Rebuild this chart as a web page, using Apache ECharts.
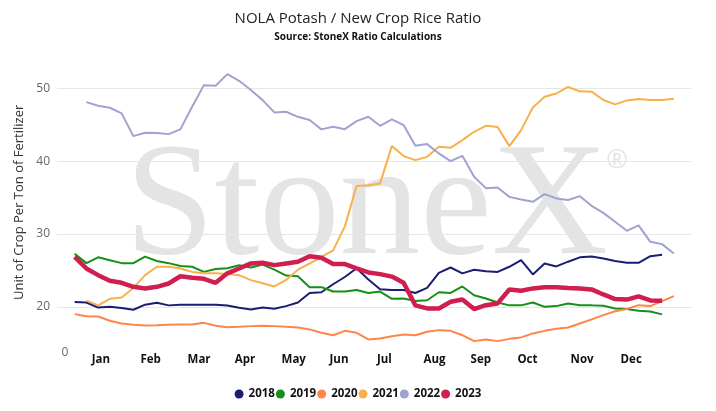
<!DOCTYPE html>
<html>
<head>
<meta charset="utf-8">
<script src="https://cdn.jsdelivr.net/npm/echarts@6/dist/echarts.min.js"></script>
<style>
html,body{margin:0;padding:0;background:#fff;}
#chart{width:716px;height:411px;}
</style>
</head>
<body>
<div id="chart"></div>
<script>
// ---- data (weekly ratio, week 1..52) ----
const weeks = [1,2,3,4,5,6,7,8,9,10,11,12,13,14,15,16,17,18,19,20,21,22,23,24,25,26,27,28,29,30,31,32,33,34,35,36,37,38,39,40,41,42,43,44,45,46,47,48,49,50,51,52];
const monthLabels = ['Jan','Feb','Mar','Apr','May','Jun','Jul','Aug','Sep','Oct','Nov','Dec'];
const monthPositions = [3.23,7.47,11.59,15.5,19.65,23.5,27.36,31.63,35.57,39.54,44.19,48.37];
const yTickLabels = [20,30,40,50];
const seriesNames = ['2018','2019','2020','2021','2022','2023'];

const v2018 = [20.65,20.6,19.9,20.0,19.85,19.6,20.3,20.55,20.2,20.3,20.3,20.3,20.3,20.18,
  19.86,19.64,19.9,19.73,20.1,20.6,21.9,22.0,23.1,24.1,25.3,23.76,22.4,
  22.3,22.3,21.9,22.6,24.67,25.4,24.6,25.1,24.9,24.8,25.5,26.4,24.45,25.96,25.55,
  26.2,26.8,26.9,26.65,26.3,26.05,26.05,26.96,27.14];
const v2019 = [27.3,26.0,26.8,26.4,26.0,26.0,26.9,26.3,26.0,25.6,25.5,24.8,25.2,25.3,
  25.7,25.4,25.8,25.1,24.3,24.2,22.7,22.7,22.1,22.1,22.3,21.9,22.1,21.1,
  21.15,20.8,20.9,22.0,21.9,22.8,21.6,21.15,20.6,20.2,20.2,20.6,20.0,20.1,
  20.46,20.23,20.2,20.14,19.78,19.7,19.45,19.36,18.96];
const v2020 = [19.0,18.72,18.68,18.08,17.72,17.53,17.44,17.48,17.53,17.57,17.57,17.8,17.4,17.2,
  17.25,17.35,17.4,17.35,17.25,17.16,16.9,16.43,16.1,16.7,16.43,15.52,15.66,15.97,
  16.2,16.1,16.57,16.8,16.7,16.1,15.29,15.52,15.29,15.6,15.8,16.35,16.7,17.0,
  17.16,17.72,18.27,18.86,19.4,19.7,20.23,20.1,20.78,21.47];
const v2021 = [null,20.85,20.2,21.1,21.27,22.6,24.35,25.5,25.5,25.27,24.8,
  24.62,24.6,24.5,24.35,23.67,23.25,22.8,23.7,25.1,25.95,
  26.87,27.75,31.05,36.6,36.7,36.95,42.1,40.7,40.15,40.6,
  41.98,41.84,42.9,44.04,44.86,44.7,42.07,44.27,47.39,48.85,
  49.3,50.2,49.6,49.55,48.4,47.8,48.35,48.53,48.4,48.4,48.57];
const v2022 = [null,48.12,47.61,47.34,46.57,43.45,43.9,43.86,43.72,44.37,47.47,
  50.45,50.36,51.96,51.04,49.77,48.39,46.7,46.79,46.1,45.65,
  44.37,44.73,44.4,45.5,46.1,44.86,45.74,44.96,42.12,42.35,
  41.07,40.01,40.74,37.86,36.3,36.4,35.1,34.75,34.42,35.48,
  34.89,34.67,35.2,33.87,32.91,31.68,30.44,31.18,28.93,28.61,27.33];
const v2023 = [26.87,25.27,24.35,23.57,23.3,22.75,22.53,22.75,23.2,24.2,23.98,23.85,23.3,24.6,
  25.27,25.96,26.05,25.73,25.96,26.18,26.96,26.73,25.87,25.87,25.27,24.72,24.49,24.15,
  23.3,20.2,19.78,19.78,20.69,21.0,19.7,20.23,20.47,22.39,22.2,22.53,22.7,22.7,
  22.6,22.53,22.39,21.7,21.06,21.0,21.43,20.88,20.83];

const values = [v2018,v2019,v2020,v2021,v2022,v2023];
const colors = ['#1b1d72','#168f16','#ff8549','#f8b04a','#a0a3cf','#d01e4e'];
const widths = [2,2,2,2,2,4.5];

function toData(arr){
  const out = [];
  weeks.forEach((w,i)=>{ if(arr[i]!=null) out.push([w, arr[i]]); });
  return out;
}

const Y_MIN = 13.7, Y_MAX = 55;

const chart = echarts.init(document.getElementById('chart'), null, {renderer:'canvas'});
chart.setOption({
  animation:false,
  backgroundColor:'#ffffff',
  textStyle:{fontFamily:'"Open Sans", "Noto Sans", sans-serif'},
  title:{
    text:'NOLA Potash / New Crop Rice Ratio',
    subtext:'Source: StoneX Ratio Calculations',
    left:'center', top:6, itemGap:6,
    textStyle:{fontSize:15,fontWeight:'normal',color:'#222222',fontFamily:'"Open Sans", sans-serif'},
    subtextStyle:{fontSize:10,fontWeight:'bold',color:'#111111',fontFamily:'"Open Sans", sans-serif'}
  },
  graphic:[
    {type:'text', z:-10, silent:true, x:125, y:211,
      style:{text:'StoneX', fill:'#e3e4e6', font:'161px "Liberation Serif", "DejaVu Serif", serif', verticalAlign:'middle', align:'left'}},
    {type:'text', z:-10, silent:true, x:617, y:161,
      style:{text:'®', fill:'#e3e4e6', font:'26px "Open Sans", sans-serif', verticalAlign:'middle', align:'center'}},
    {type:'text', x:65, y:353,
      style:{text:'0', fill:'#666666', font:'12px "Open Sans", sans-serif', verticalAlign:'middle', align:'center'}}
  ],
  legend:{
    data:seriesNames, left:'center', top:383, icon:'circle', itemWidth:9, itemHeight:9, itemGap:1,
    textStyle:{fontSize:11.5,fontWeight:'bold',color:'#111111',fontFamily:'"Open Sans", sans-serif'}
  },
  grid:{left:57, right:25, top:52, bottom:58.3, containLabel:false},
  xAxis:{
    type:'value', min:-0.5, max:53.46,
    axisLine:{show:false}, axisTick:{show:false}, splitLine:{show:false},
    axisLabel:{
      customValues: monthPositions,
      formatter:(v)=>{ const k = monthPositions.findIndex(p=>Math.abs(p-v)<1e-6); return k>=0?monthLabels[k]:''; },
      color:'#111111', fontWeight:'bold', fontSize:11.5, margin:1,
      fontFamily:'"Open Sans", sans-serif'
    }
  },
  yAxis:{
    type:'value', min:Y_MIN, max:Y_MAX,
    name:'Unit of Crop Per Ton of Fertilizer', nameLocation:'middle', nameGap:21,
    nameTextStyle:{fontSize:13,color:'#333333',fontFamily:'"Open Sans", sans-serif'},
    axisLine:{show:false}, axisTick:{show:false},
    splitLine:{show:true, showMinLine:false, showMaxLine:false, lineStyle:{color:'#e6e6e6',width:1}},
    axisLabel:{
      showMinLabel:false, showMaxLabel:false,
      formatter:(v)=> yTickLabels.indexOf(Math.round(v*1000)/1000)>=0 ? String(v) : '',
      color:'#666666', fontSize:12, margin:7, fontFamily:'"Open Sans", sans-serif'
    }
  },
  series: seriesNames.map((n,k)=>({
    name:n, type:'line', data:toData(values[k]), symbol:'none', smooth:false,
    lineStyle:{color:colors[k], width:widths[k]}, itemStyle:{color:colors[k]},
    z: 2 + k, emphasis:{disabled:true}
  }))
});
</script>
</body>
</html>
